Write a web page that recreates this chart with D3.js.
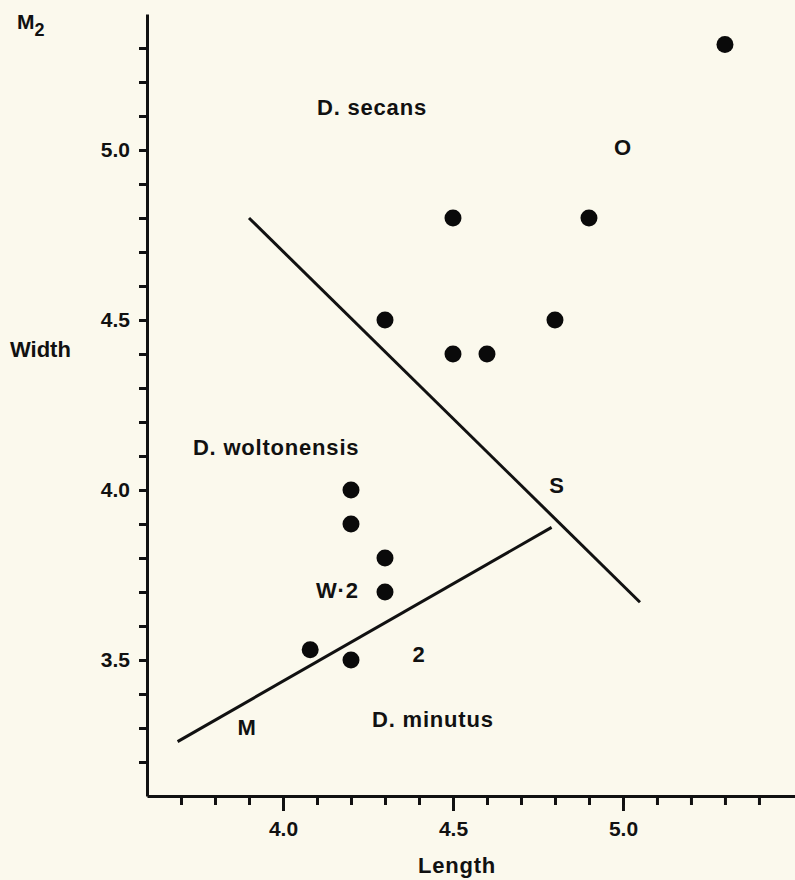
<!DOCTYPE html>
<html>
<head>
<meta charset="utf-8">
<script src="https://cdn.jsdelivr.net/npm/d3@7"></script>
<style>
  body { margin: 0; background: #fbf9ed; }
  svg { display: block; }
  text { font-family: "Liberation Sans", Arial, Helvetica, sans-serif; font-weight: bold; fill: #111; }
  .axis path, .axis line { stroke: #111; stroke-width: 3; }
</style>
</head>
<body>
<div class="chart"></div>
<script>
// M2 tooth measurements (mm)
var lengthVals = [5.3, 4.5, 4.9, 4.3, 4.8, 4.5, 4.6, 4.2, 4.2, 4.3, 4.3, 4.08, 4.2];
var widthVals = [5.31, 4.8, 4.8, 4.5, 4.5, 4.4, 4.4, 4.0, 3.9, 3.8, 3.7, 3.53, 3.5];

// dividing lines between species
var secansLine = [[3.9, 4.8], [5.05, 3.67]];
var minutusLine = [[3.69, 3.26], [4.79, 3.89]];

var xMajor = [4.0, 4.5, 5.0];
var yMajor = [3.5, 4.0, 4.5, 5.0];

// annotations placed in data units
var notes = [
  { t: "D. secans", x: 4.1, y: 5.103, a: "start" },
  { t: "O", x: 5.0, y: 4.985, a: "middle" },
  { t: "D. woltonensis", x: 3.735, y: 4.103, a: "start" },
  { t: "S", x: 4.806, y: 3.99, a: "middle" },
  { t: "W·2", x: 4.16, y: 3.682, a: "middle" },
  { t: "2", x: 4.4, y: 3.494, a: "middle" },
  { t: "M", x: 3.894, y: 3.279, a: "middle" },
  { t: "D. minutus", x: 4.262, y: 3.303, a: "start" }
];

var svgWidth = 795;
var svgHeight = 880;

var svg = d3.select(".chart")
  .append("svg")
  .attr("width", svgWidth)
  .attr("height", svgHeight);

var xScale = d3.scaleLinear()
  .domain([3.6, 5.506])
  .range([147, 795]);

var yScale = d3.scaleLinear()
  .domain([3.1, 5.4])
  .range([796, 14]);

var xTicks = d3.range(37, 55).map(d => d / 10);
var yTicks = d3.range(32, 54).map(d => d / 10);

// x axis: small ticks, then long labelled ones
svg.append("g")
  .attr("class", "axis")
  .attr("transform", `translate(0, ${yScale(3.1)})`)
  .call(d3.axisBottom(xScale).tickValues(xTicks).tickSize(9).tickSizeOuter(0).tickFormat(""));

var xLab = svg.append("g")
  .attr("class", "axis")
  .attr("transform", `translate(0, ${yScale(3.1)})`)
  .call(d3.axisBottom(xScale).tickValues(xMajor).tickSize(15).tickPadding(10).tickSizeOuter(0).tickFormat(d3.format(".1f")));
xLab.select(".domain").remove();
xLab.selectAll("text").attr("font-size", 21).attr("fill", "#111");

// y axis
var yAx = svg.append("g")
  .attr("class", "axis")
  .attr("transform", `translate(${xScale(3.6)}, 0)`)
  .call(d3.axisLeft(yScale).tickValues(yTicks).tickSize(8).tickPadding(9).tickSizeOuter(0)
    .tickFormat(d => yMajor.some(v => Math.abs(v - d) < 1e-6) ? d3.format(".1f")(d) : ""));
yAx.selectAll("text").attr("font-size", 21).attr("fill", "#111");

// boundary lines
var line = d3.line().x(d => xScale(d[0])).y(d => yScale(d[1]));
[secansLine, minutusLine].forEach(function(seg) {
  svg.append("path")
    .attr("d", line(seg))
    .attr("fill", "none")
    .attr("stroke", "#111")
    .attr("stroke-width", 3);
});

// points
svg.selectAll("circle")
  .data(lengthVals)
  .enter()
  .append("circle")
  .attr("cx", d => xScale(d))
  .attr("cy", (d, i) => yScale(widthVals[i]))
  .attr("r", 8.5)
  .attr("fill", "#0a0a0a");

// labels
svg.selectAll("text.note")
  .data(notes)
  .enter()
  .append("text")
  .attr("class", "note")
  .attr("x", d => xScale(d.x))
  .attr("y", d => yScale(d.y))
  .attr("text-anchor", d => d.a)
  .attr("font-size", 22)
  .attr("letter-spacing", 0.8)
  .text(d => d.t);

// axis titles
svg.append("text")
  .attr("x", 457)
  .attr("y", 873)
  .attr("text-anchor", "middle")
  .attr("font-size", 22)
  .attr("letter-spacing", 0.8)
  .text("Length");

svg.append("text")
  .attr("x", 10)
  .attr("y", 357)
  .attr("font-size", 22)
  .text("Width");

var m2 = svg.append("text")
  .attr("x", 17)
  .attr("y", 29)
  .attr("font-size", 21)
  .text("M");
m2.append("tspan")
  .attr("dy", 7)
  .attr("font-size", 18)
  .text("2");
</script>
</body>
</html>
